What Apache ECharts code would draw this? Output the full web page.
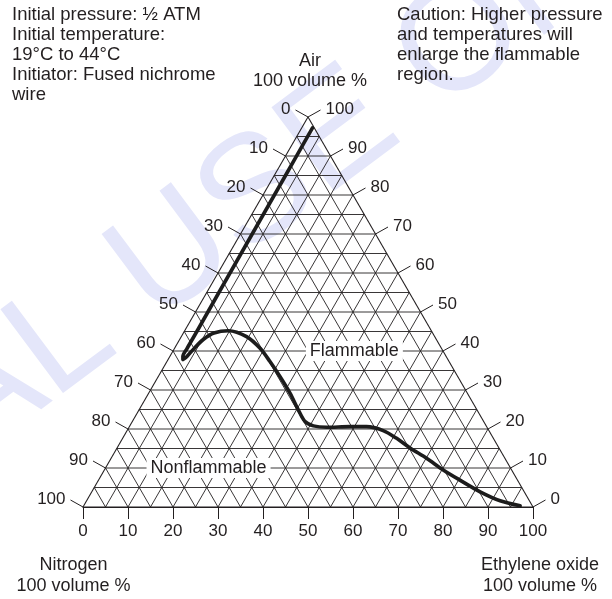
<!DOCTYPE html>
<html><head><meta charset="utf-8">
<script src="https://cdn.jsdelivr.net/npm/echarts@6/dist/echarts.min.js"></script>
<style>html,body{margin:0;padding:0;background:#fff}#c{width:612px;height:599px}</style>
</head><body><div id="c"></div>
<script>
// ---- data ----
const ethyleneOxideTicks = [0,10,20,30,40,50,60,70,80,90,100];
const nitrogenTicks = [0,10,20,30,40,50,60,70,80,90,100];
const airTicks = [100,90,80,70,60,50,40,30,20,10,0];
// flammability boundary: ethylene oxide % and air % (nitrogen = rest)
const curveEO  = [2.4, 2.5, 2.6, 2.7, 2.8, 2.8, 2.9, 3.3, 3.8, 4.4, 5.3, 6.8, 9.7, 14.5, 19.0, 22.9, 27.1, 31.4, 35.4, 38.4, 40.8, 43.9, 49.0, 52.7, 56.9, 60.9, 65.0, 70.1, 75.3, 80.3, 86.3, 91.9, 97.0];
const curveAir = [97.2, 85, 70, 55, 45, 40.5, 38.6, 37.8, 38.6, 40.8, 43.0, 44.6, 45.2, 43.7, 40.7, 37.3, 33.4, 29.2, 24.9, 21.9, 20.8, 20.45, 20.6, 20.6, 19.6, 17.6, 15.2, 12.5, 9.5, 6.9, 3.9, 1.6, 0.3];
const regionNames = ['Flammable', 'Nonflammable'];
const regionEO = [40.3, 22.9];
const regionAir = [40, 10];
const gridStep = 5;

// ---- helpers ----
const FONT = '"Liberation Sans", Arial, Helvetica, sans-serif';
const INK = '#231f20';
function toXY(e, a) { return [e + a / 2, a]; }

const gridSegs = [];
for (let v = gridStep; v < 100; v += gridStep) {
  gridSegs.push([...toXY(0, v), ...toXY(100 - v, v)]);       // constant air
  gridSegs.push([...toXY(v, 0), ...toXY(v, 100 - v)]);       // constant ethylene oxide
  gridSegs.push([...toXY(100 - v, 0), ...toXY(0, 100 - v)]); // constant nitrogen
}
const borderSegs = [
  [...toXY(0, 0), ...toXY(100, 0)],
  [...toXY(100, 0), ...toXY(0, 100)],
  [...toXY(0, 100), ...toXY(0, 0)]
];

function segRender(width) {
  return function (params, api) {
    const p1 = api.coord([api.value(0), api.value(1)]);
    const p2 = api.coord([api.value(2), api.value(3)]);
    return { type: 'line', shape: { x1: p1[0], y1: p1[1], x2: p2[0], y2: p2[1] },
      style: { stroke: INK, lineWidth: width } };
  };
}
function tickRender(labels, side) {
  return function (params, api) {
    const p = api.coord([api.value(0), api.value(1)]);
    const ex = p[0] + side * 12.5, ey = p[1] - 7;
    return { type: 'group', children: [
      { type: 'line', shape: { x1: p[0], y1: p[1], x2: ex, y2: ey }, style: { stroke: INK, lineWidth: 1 } },
      { type: 'text', x: ex + side * 5, y: ey - 1,
        style: { text: String(labels[params.dataIndex]), fill: INK, font: '17px ' + FONT,
          align: side < 0 ? 'right' : 'left', verticalAlign: 'middle' } }
    ] };
  };
}

const leftData = nitrogenTicks.map(n => toXY(0, 100 - n));
const rightData = airTicks.map(a => toXY(100 - a, a));
const curveData = curveEO.map((e, i) => toXY(e, curveAir[i]));
const regionData = regionEO.map((e, i) => toXY(e, regionAir[i]));

const chart = echarts.init(document.getElementById('c'), null, { renderer: 'canvas' });
chart.setOption({
  animation: false,
  backgroundColor: '#fff',
  grid: { left: 83, top: 117, width: 450, height: 390 },
  xAxis: { type: 'value', min: 0, max: 100, interval: 10,
    axisLine: { show: true, lineStyle: { color: INK, width: 1 } },
    axisTick: { show: true, length: 12, lineStyle: { color: INK, width: 1 } },
    axisLabel: { fontSize: 17, color: INK, margin: 16, fontFamily: FONT, showMinLabel: true, showMaxLabel: true,
      formatter: v => String(ethyleneOxideTicks[Math.round(v / 10)]) },
    splitLine: { show: false } },
  yAxis: { type: 'value', min: 0, max: 100, show: false },
  graphic: [
    { type: 'text', x: 115, y: 302, rotation: 0.64, z: -10, silent: true,
      style: { text: 'INTERNAL USE ONLY', font: '152px ' + FONT, fill: '#e4e6fa', align: 'center', verticalAlign: 'middle' } },
    { type: 'text', x: 12, y: 5,
      style: { text: 'Initial pressure: ½ ATM\nInitial temperature:\n19°C to 44°C\nInitiator: Fused nichrome\nwire',
        font: '18.5px ' + FONT, fill: INK, lineHeight: 20, align: 'left', verticalAlign: 'top' } },
    { type: 'text', x: 397, y: 5,
      style: { text: 'Caution: Higher pressure\nand temperatures will\nenlarge the flammable\nregion.',
        font: '18.5px ' + FONT, fill: INK, lineHeight: 20, align: 'left', verticalAlign: 'top' } },
    { type: 'text', x: 310, y: 51,
      style: { text: 'Air\n100 volume %', font: '18px ' + FONT, fill: INK, lineHeight: 20, align: 'center', verticalAlign: 'top' } },
    { type: 'text', x: 73.5, y: 554,
      style: { text: 'Nitrogen\n100 volume %', font: '18px ' + FONT, fill: INK, lineHeight: 21.5, align: 'center', verticalAlign: 'top' } },
    { type: 'text', x: 540, y: 554,
      style: { text: 'Ethylene oxide\n100 volume %', font: '18px ' + FONT, fill: INK, lineHeight: 21.5, align: 'center', verticalAlign: 'top' } }
  ],
  series: [
    { type: 'custom', name: 'grid', data: gridSegs, encode: { x: [0, 2], y: [1, 3] }, renderItem: segRender(0.9), clip: false, silent: true, z: 2 },
    { type: 'custom', name: 'border', data: borderSegs, encode: { x: [0, 2], y: [1, 3] }, renderItem: segRender(1.1), clip: false, silent: true, z: 3 },
    { type: 'custom', name: 'leftTicks', data: leftData, renderItem: tickRender(nitrogenTicks, -1), clip: false, silent: true, z: 3 },
    { type: 'custom', name: 'rightTicks', data: rightData, renderItem: tickRender(airTicks, 1), clip: false, silent: true, z: 3 },
    { type: 'custom', name: 'regions', data: regionData, clip: false, silent: true, z: 4,
      renderItem: function (params, api) {
        const p = api.coord([api.value(0), api.value(1)]);
        return { type: 'text', x: p[0], y: p[1],
          style: { text: regionNames[params.dataIndex], font: '18px ' + FONT, fill: INK, align: 'center', verticalAlign: 'middle',
            backgroundColor: '#fff', padding: [1, 4] } };
      } },
    { type: 'line', name: 'boundary', data: curveData, smooth: 0.3, showSymbol: false, symbol: 'none', clip: false, z: 6,
      lineStyle: { color: '#1c1c1c', width: 3.6, cap: 'round', join: 'round' } }
  ]
});
</script></body></html>
